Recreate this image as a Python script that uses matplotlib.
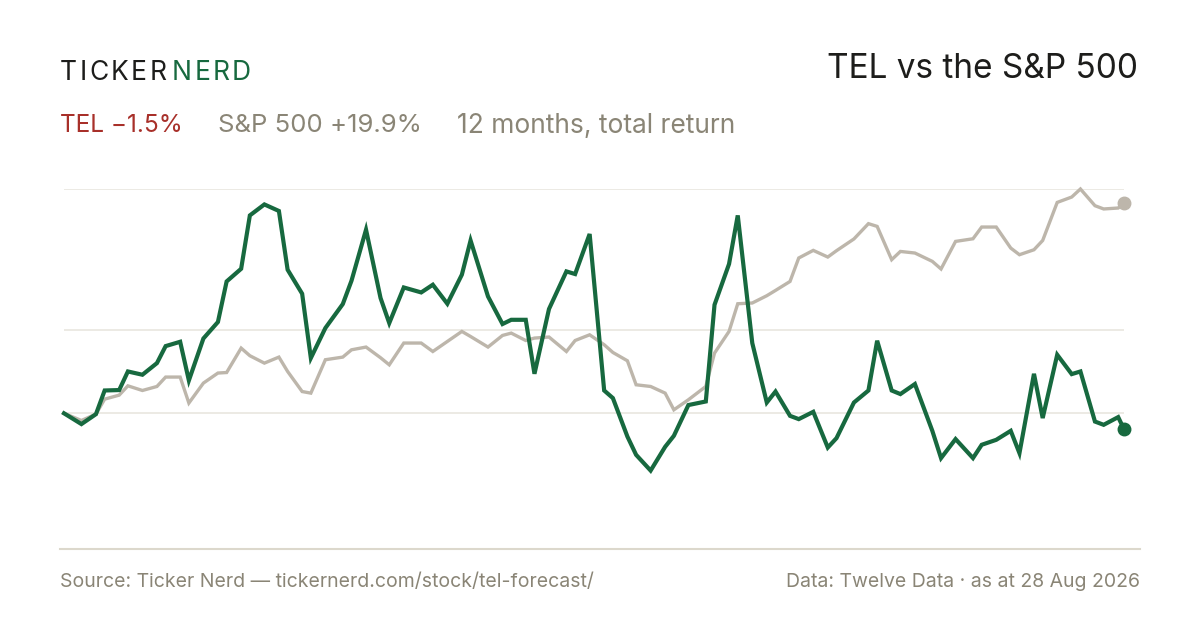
import matplotlib
matplotlib.use("Agg")
import matplotlib.pyplot as plt
import numpy as np

# ---- data (days since start, cumulative total return %) ----
days = [0, 6, 11, 14, 19, 22, 27, 32, 35, 40, 43, 48, 53, 56, 61, 64, 69, 74, 77, 82,
        85, 90, 96, 99, 104, 109, 112, 117, 123, 127, 132, 137, 140, 146, 151, 154, 159, 162, 167, 173,
        176, 181, 186, 189, 194, 197, 202, 207, 210, 215, 221, 224, 229, 232, 237, 242, 245, 250, 253, 258,
        263, 266, 272, 277, 280, 285, 288, 293, 299, 302, 307, 313, 316, 321, 326, 329, 334, 337, 342, 347,
        350, 355, 358, 363, 365]

tel_pct = [0.0, -1.02, -0.08, 2.16, 2.20, 3.96, 3.65, 4.75, 6.36, 6.77, 3.11, 7.08, 8.64, 12.48, 13.68, 18.73, 19.77, 19.15, 13.59, 11.32,
           5.23, 8.07, 10.34, 12.55, 17.38, 10.91, 8.54, 11.91, 11.44, 12.17, 10.37, 13.12, 16.36, 11.06, 8.45, 8.85, 8.85, 3.74, 9.87, 13.43,
           13.18, 16.97, 2.16, 1.44, -2.20, -3.93, -5.42, -3.17, -2.13, 0.78, 1.12, 10.27, 14.13, 18.73, 6.65, 1.02, 2.06, -0.24, -0.55, 0.14,
           -3.24, -2.35, 1.02, 2.16, 6.87, 2.16, 1.82, 2.77, -1.66, -4.24, -2.44, -4.24, -2.98, -2.51, -1.66, -3.77, 3.74, -0.45, 5.54, 3.71,
           3.96, -0.78, -1.09, -0.36, -1.50]

spx_pct = [0.0, -0.68, -0.08, 1.34, 1.72, 2.60, 2.16, 2.54, 3.43, 3.43, 0.97, 2.86, 3.81, 3.86, 6.17, 5.45, 4.75, 5.32, 3.96, 2.06,
           1.91, 5.07, 5.32, 6.01, 6.27, 5.26, 4.59, 6.65, 6.65, 5.85, 6.80, 7.75, 7.27, 6.27, 7.37, 7.59, 6.89, 7.12, 7.22, 5.85,
           6.89, 7.43, 6.49, 5.76, 4.97, 2.70, 2.54, 1.91, 0.33, 1.28, 2.54, 5.70, 7.75, 10.37, 10.44, 11.13, 11.63, 12.48, 14.70, 15.42,
           14.79, 15.39, 16.50, 17.95, 17.69, 14.54, 15.32, 15.17, 14.38, 13.66, 16.27, 16.52, 17.63, 17.63, 15.64, 15.01, 15.48, 16.36, 19.96, 20.47,
           21.23, 19.65, 19.34, 19.43, 19.90]

brand_left = "TICKER"
brand_right = "NERD"
title = "TEL vs the S&P 500"
tel_label = "TEL \u22121.5%"
spx_label = "S&P 500 +19.9%"
period_label = "12 months, total return"
source_text = "Source: Ticker Nerd \u2014 tickernerd.com/stock/tel-forecast/"
data_text = "Data: Twelve Data \u00b7 as at 28 Aug 2026"

# ---- styles ----
GREEN = "#17693f"
SPX = "#bdb6ab"
RED = "#a8302a"
GREY_TXT = "#8a8576"
DARK = "#1d1d1b"
GRID = "#e9e6df"
RULE = "#dcd8cc"

plt.rcParams['font.family'] = ['Inter', 'DejaVu Sans']

W, H = 1200, 630
fig = plt.figure(figsize=(W / 100, H / 100), dpi=100)
fig.patch.set_facecolor("white")

def fx(px):
    return px / W

def fy(py):
    return 1 - py / H

# axes area in pixels
ax_left, ax_right, ax_top, ax_bottom = 64, 1124, 189, 548
ax = fig.add_axes([fx(ax_left), fy(ax_bottom), fx(ax_right) - fx(ax_left), fy(ax_top) - fy(ax_bottom)])
ax.set_axis_off()

ymax = max(max(tel_pct), max(spx_pct))
ymin = min(min(tel_pct), min(spx_pct))
ax.set_xlim(days[0], days[-1])
ax.set_ylim(ymin - 0.275 * (ymax - ymin), ymax)

for g in [0.0, (ymin + ymax) / 2, ymax]:
    ax.axhline(g, color=GRID, lw=1.2, zorder=1)

ax.plot(days, spx_pct, color=SPX, lw=2.4, solid_joinstyle="miter", zorder=2, clip_on=False)
ax.plot(days, tel_pct, color=GREEN, lw=3.0, solid_joinstyle="miter", zorder=3, clip_on=False)
ax.plot([days[-1]], [spx_pct[-1]], 'o', color=SPX, ms=9, zorder=4, clip_on=False)
ax.plot([days[-1]], [tel_pct[-1]], 'o', color=GREEN, ms=9, zorder=5, clip_on=False)

# bottom rule
fig.add_artist(plt.Line2D([fx(60), fx(1140)], [fy(549), fy(549)], color=RULE, lw=1.5))

renderer = fig.canvas.get_renderer()

def spaced(x_px, y_px, s, spacing_px, **kw):
    """Draw text letter by letter with extra tracking; returns end x in px."""
    x = x_px
    for ch in s:
        t = fig.text(fx(x), fy(y_px), ch, va="baseline", ha="left", **kw)
        w = t.get_window_extent(renderer=renderer).width
        x += w + spacing_px
    return x

# header
spaced(60, 80, brand_left, 2.4, color=DARK, fontsize=19)
spaced(172, 80, brand_right, 2.4, color=GREEN, fontsize=19)
fig.text(fx(1138), fy(78), title, color=DARK, fontsize=24, va="baseline", ha="right")

fig.text(fx(60), fy(132.5), tel_label, color=RED, fontsize=17.6, va="baseline", ha="left")
fig.text(fx(218), fy(132.5), spx_label, color=GREY_TXT, fontsize=18.5, va="baseline", ha="left")
fig.text(fx(457), fy(132.5), period_label, color=GREY_TXT, fontsize=19.0, va="baseline", ha="left")

# footer
fig.text(fx(60), fy(587), source_text, color=GREY_TXT, fontsize=14, va="baseline", ha="left")
fig.text(fx(1140), fy(587), data_text, color=GREY_TXT, fontsize=14, va="baseline", ha="right")

fig.savefig("out.png", dpi=100, facecolor="white")
